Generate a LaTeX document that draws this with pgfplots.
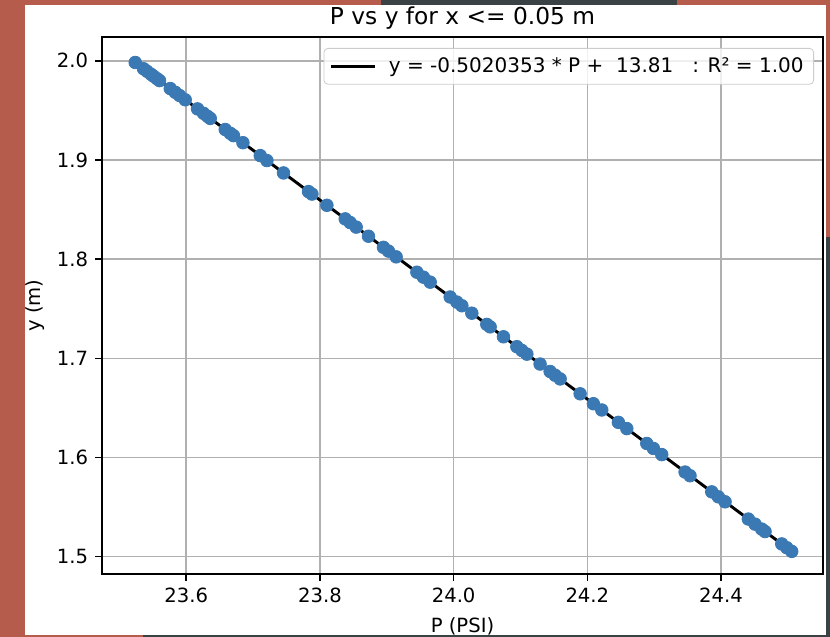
\documentclass[border=0pt]{standalone}
\usepackage{fontspec}
\setmainfont{DejaVu Sans}
\usepackage{pgfplots}
\usepackage{pgfplotstable}
\pgfplotsset{compat=1.18}

\definecolor{slidered}{RGB}{181,92,76}
\definecolor{slidedark}{RGB}{58,66,69}
\definecolor{dotblue}{RGB}{58,121,180}
\definecolor{gridgray}{RGB}{176,176,176}
\newcommand{\tickfont}{\fontsize{9.8}{11.5}\selectfont}

% pressure P (PSI) and height y (m)
\pgfplotstableread{
P y
23.5237 1.9983
23.5361 1.9920
23.5412 1.9895
23.5472 1.9865
23.5511 1.9845
23.5562 1.9820
23.5601 1.9800
23.5761 1.9720
23.5836 1.9682
23.5900 1.9650
23.5985 1.9607
23.6169 1.9515
23.6259 1.9470
23.6319 1.9440
23.6359 1.9419
23.6583 1.9307
23.6658 1.9269
23.6707 1.9245
23.6848 1.9174
23.7107 1.9044
23.7207 1.8994
23.7455 1.8869
23.7829 1.8681
23.7880 1.8656
23.8104 1.8543
23.8378 1.8406
23.8452 1.8369
23.8542 1.8323
23.8726 1.8231
23.8950 1.8119
23.9025 1.8081
23.9140 1.8023
23.9450 1.7868
23.9548 1.7818
23.9649 1.7768
23.9948 1.7618
24.0048 1.7567
24.0123 1.7530
24.0272 1.7455
24.0496 1.7342
24.0546 1.7317
24.0745 1.7217
24.0945 1.7117
24.1020 1.7079
24.1095 1.7042
24.1293 1.6942
24.1443 1.6867
24.1518 1.6829
24.1593 1.6792
24.1892 1.6642
24.2090 1.6542
24.2216 1.6479
24.2464 1.6354
24.2590 1.6291
24.2889 1.6141
24.2988 1.6091
24.3113 1.6029
24.3462 1.5853
24.3536 1.5816
24.3861 1.5653
24.3960 1.5603
24.4060 1.5553
24.4408 1.5379
24.4508 1.5328
24.4608 1.5278
24.4658 1.5253
24.4908 1.5128
24.4983 1.5090
24.5057 1.5053
}\pointdata

\begin{document}
\begin{tikzpicture}
\path[use as bounding box] (0,0) rectangle (415pt,318.5pt);
% screenshot surroundings
\fill[slidered] (0,0) rectangle (415pt,318.5pt);
\fill[white] (12.5pt,1pt) rectangle (413pt,316pt);
\fill[slidedark] (190.5pt,316pt) rectangle (338.5pt,318.5pt);
\fill[slidedark] (413pt,0pt) rectangle (415pt,200pt);
\fill[slidedark] (71.5pt,0pt) rectangle (415pt,1pt);

\begin{axis}[
    at={(51pt,31.5pt)}, anchor=south west,
    width=360.5pt, height=268.5pt,
    scale only axis,
    xmin=23.474, xmax=24.5525,
    ymin=1.4825, ymax=2.0240,
    xtick={23.6,23.8,24.0,24.2,24.4},
    ytick={1.5,1.6,1.7,1.8,1.9,2.0},
    /pgf/number format/.cd, fixed, fixed zerofill, precision=1, assume math mode=true,
    /pgfplots/.cd,
    tick label style={font=\tickfont},
    tick pos=left, tick align=outside,
    major tick length=3.4pt,
    tick style={black, line width=0.78pt},
    axis line style={line width=0.78pt},
    grid=major,
    major grid style={gridgray, line width=0.78pt},
    title={P vs y for x <= 0.05 m},
    every axis title/.style={at={(axis description cs:0.5,1)}, anchor=base,
        yshift=6pt, inner sep=0pt, font=\fontsize{11.65}{14}\selectfont},
    xlabel={P (PSI)}, ylabel={y (m)},
    every axis x label/.style={at={(axis description cs:0.5,-0.097)}, anchor=center, font=\tickfont},
    every axis y label/.style={at={(axis description cs:-0.093,0.5)}, rotate=90, anchor=center, font=\tickfont},
    legend style={at={(1,1)}, anchor=north east, xshift=-4.5pt, yshift=-5.5pt,
        draw=black!20, rounded corners=2pt, fill=white, fill opacity=0.8, text opacity=1,
        font=\fontsize{10}{12}\selectfont, inner xsep=3pt, inner ysep=2.5pt,
        /tikz/every odd column/.append style={column sep=4pt}},
    legend cell align=left,
    legend image code/.code={\draw[#1] (0pt,0pt) -- (22pt,0pt);},
]
\addplot[only marks, mark=*, mark size=3.15pt, color=dotblue, forget plot] table[x=P, y=y] {\pointdata};
\addplot[black, line width=1.46pt] coordinates {(23.5237,1.9983) (24.5057,1.5053)};
\addlegendentry{y = -0.5020353 * P +\ \ 13.81\ \ \ : R² = 1.00\hspace{1.5pt}}
\end{axis}
\end{tikzpicture}
\end{document}
